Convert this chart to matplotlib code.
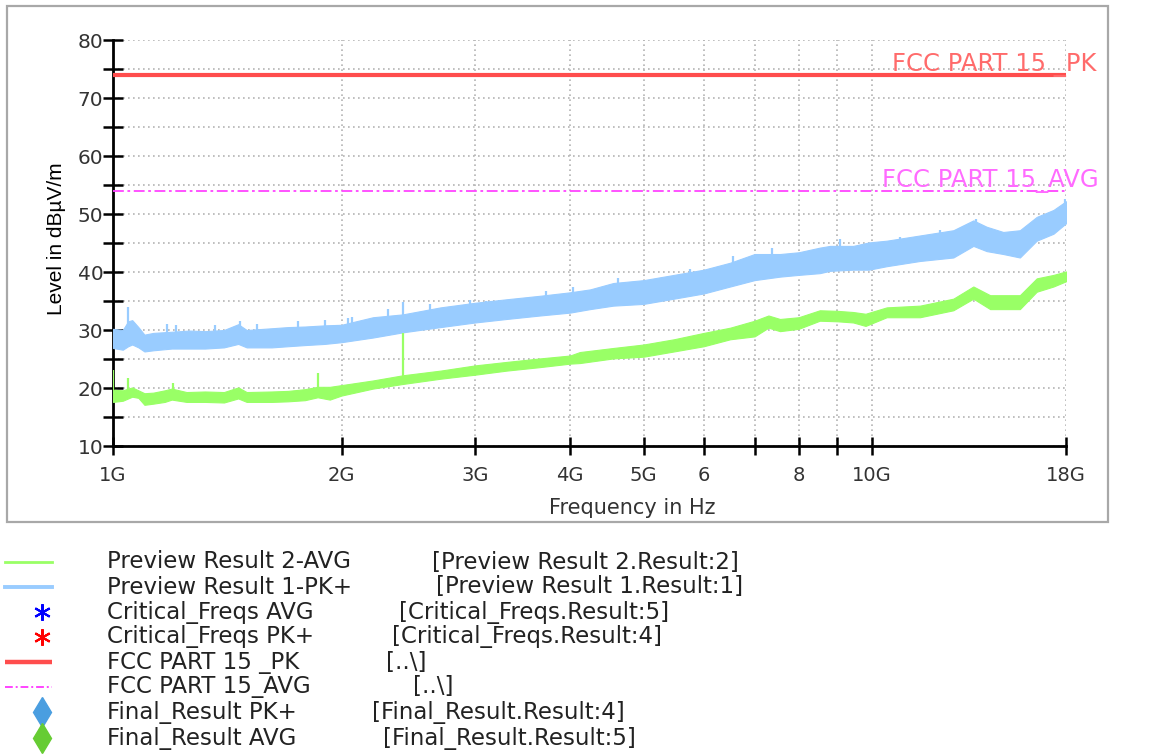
import matplotlib
matplotlib.use("Agg")
import matplotlib.pyplot as plt
from matplotlib.patches import Rectangle
import numpy as np

# ---------------- data ----------------
# Preview Result 1-PK+ : envelope of the noisy trace (GHz, dBuV/m)
pk_freq = [1.00, 1.03, 1.047, 1.06, 1.08, 1.10, 1.13, 1.195, 1.26, 1.322, 1.40, 1.462,
           1.50, 1.618, 1.70, 1.79, 1.90, 2.00, 2.20, 2.41, 2.70, 3.00, 3.30, 3.65,
           4.00, 4.25, 4.56, 5.00, 5.48, 6.00, 6.50, 7.00, 7.56, 8.00, 8.53, 8.80,
           9.44, 9.90, 10.45, 11.56, 12.79, 13.59, 14.15, 14.88, 15.65, 16.47, 17.33, 18.00]
pk_lo = [26.9, 26.6, 27.2, 27.5, 27.0, 26.3, 26.5, 26.8, 26.8, 26.8, 27.0, 27.6,
         27.0, 27.0, 27.2, 27.4, 27.6, 27.9, 28.7, 29.6, 30.5, 31.3, 31.9, 32.5,
         33.0, 33.6, 34.2, 34.5, 35.4, 36.3, 37.5, 38.6, 39.2, 39.5, 39.8, 40.2,
         40.4, 40.4, 41.0, 41.9, 42.5, 44.5, 43.6, 43.1, 42.5, 45.4, 46.6, 48.4]
pk_hi = [30.2, 30.0, 31.5, 31.7, 30.5, 29.2, 29.5, 29.7, 29.9, 29.8, 30.0, 31.0,
         30.0, 30.3, 30.5, 30.6, 30.8, 30.9, 32.2, 32.7, 33.9, 34.7, 35.3, 35.9,
         36.5, 37.0, 38.1, 38.6, 39.5, 40.4, 41.6, 43.1, 43.1, 43.4, 44.2, 44.5,
         44.5, 45.1, 45.4, 46.3, 47.2, 48.9, 47.8, 46.9, 47.2, 49.5, 50.7, 52.2]
# isolated peaks sticking out of the PK band
pk_spike_freq = [1.047, 1.177, 1.21, 1.362, 1.47, 1.546, 1.754, 1.902, 2.04, 2.063,
                 2.30, 2.41, 2.616, 2.95, 3.10, 3.72, 4.04, 4.63, 5.76, 6.56, 7.37,
                 8.54, 9.07, 10.88, 12.28, 13.69, 17.95]
pk_spike_hi = [33.9, 31.1, 30.9, 30.9, 31.6, 31.0, 31.6, 31.7, 32.1, 32.2,
               33.6, 34.9, 34.5, 35.1, 35.0, 36.7, 37.4, 38.9, 40.5, 42.8, 44.1,
               43.9, 45.7, 46.0, 47.3, 49.2, 52.6]
pk_spike_lo = [29.0, 28.0, 28.0, 28.0, 29.0, 28.0, 28.5, 28.8, 29.0, 29.0,
               30.0, 31.0, 32.0, 32.5, 32.5, 34.0, 34.5, 36.0, 37.5, 39.5, 41.0,
               41.5, 42.5, 43.5, 44.5, 46.5, 50.0]

# Preview Result 2-AVG : envelope of the noisy trace
avg_freq = [1.00, 1.03, 1.06, 1.08, 1.10, 1.13, 1.17, 1.195, 1.25, 1.322, 1.40, 1.462,
            1.50, 1.618, 1.70, 1.79, 1.86, 1.93, 2.00, 2.20, 2.41, 2.70, 3.00, 3.30,
            3.65, 4.00, 4.12, 4.56, 5.00, 5.48, 6.00, 6.50, 7.00, 7.30, 7.56, 8.00,
            8.53, 9.00, 9.44, 9.80, 10.45, 11.56, 12.79, 13.59, 14.30, 15.65, 16.47,
            17.33, 18.00]
avg_lo = [17.6, 17.8, 18.5, 18.3, 17.1, 17.3, 17.6, 18.0, 17.6, 17.6, 17.5, 18.2,
          17.6, 17.6, 17.7, 17.9, 18.4, 18.0, 18.7, 19.9, 20.7, 21.6, 22.3, 23.0,
          23.6, 24.2, 24.3, 25.1, 25.4, 26.3, 27.2, 28.4, 28.9, 30.4, 29.8, 30.2,
          31.6, 31.5, 31.3, 30.7, 32.2, 32.2, 33.4, 35.4, 33.6, 33.6, 36.6, 37.5, 38.4]
avg_hi = [19.7, 19.6, 20.1, 19.6, 19.1, 19.2, 19.6, 19.9, 19.3, 19.4, 19.3, 20.1,
          19.3, 19.4, 19.5, 19.8, 20.2, 20.2, 20.5, 21.3, 22.2, 23.0, 23.9, 24.5,
          25.1, 25.6, 26.2, 26.9, 27.5, 28.4, 29.5, 30.4, 31.6, 32.5, 31.9, 32.2,
          33.4, 33.3, 33.1, 32.8, 33.9, 34.2, 35.4, 37.5, 36.0, 36.0, 38.9, 39.5, 40.1]
avg_spike_freq = [1.00, 1.047, 1.20, 1.86, 2.41]
avg_spike_lo = [18.0, 18.5, 18.5, 19.0, 21.0]
avg_spike_hi = [23.1, 21.8, 20.9, 22.6, 29.4]

# limits
limit_freq = [1.0, 18.0]
fcc_pk = [74.0, 74.0]
fcc_avg = [54.0, 54.0]

x_ticks = [1, 2, 3, 4, 5, 6, 7, 8, 9, 10, 18]
x_tick_labels = ["1G", "2G", "3G", "4G", "5G", "6", "", "8", "", "10G", "18G"]
y_ticks = list(range(10, 81, 5))
y_tick_labels = [str(v) if v % 10 == 0 else "" for v in y_ticks]

legend_names = ["Preview Result 2-AVG", "Preview Result 1-PK+", "Critical_Freqs AVG",
                "Critical_Freqs PK+", "FCC PART 15 _PK", "FCC PART 15_AVG",
                "Final_Result PK+", "Final_Result AVG"]
legend_sources = ["[Preview Result 2.Result:2]", "[Preview Result 1.Result:1]",
                  "[Critical_Freqs.Result:5]", "[Critical_Freqs.Result:4]",
                  "[..\\]", "[..\\]", "[Final_Result.Result:4]", "[Final_Result.Result:5]"]

# ---------------- styling ----------------
GREEN = "#99ff66"
BLUE = "#99ccff"
RED = "#ff4d4d"
MAG = "#ff44ff"
TXT = "#333333"
GHZ = 1e9

W, H = 1176, 756
fig = plt.figure(figsize=(W / 100, H / 100), dpi=100)
fig.patch.set_facecolor("white")

# outer frame
fig.add_artist(Rectangle((7 / W, 1 - 522 / H), (1108 - 7) / W, (522 - 6) / H,
                         transform=fig.transFigure, fill=False,
                         edgecolor="#a8a8a8", lw=1.6, zorder=0))

ax = fig.add_axes([113 / W, 1 - 446 / H, (1066 - 113) / W, (446 - 40) / H])
ax.set_xscale("log")
ax.set_xlim(1.0 * GHZ, 18.0 * GHZ)
ax.set_ylim(10, 80)

f_pk = np.array(pk_freq) * GHZ
f_avg = np.array(avg_freq) * GHZ
ax.fill_between(f_pk, pk_lo, pk_hi, color=BLUE, lw=0.8, edgecolor=BLUE, zorder=3)
ax.vlines(np.array(pk_spike_freq) * GHZ, pk_spike_lo, pk_spike_hi, color=BLUE, lw=1.6, zorder=3)
ax.fill_between(f_avg, avg_lo, avg_hi, color=GREEN, lw=0.8, edgecolor=GREEN, zorder=4)
ax.vlines(np.array(avg_spike_freq) * GHZ, avg_spike_lo, avg_spike_hi, color=GREEN, lw=1.6, zorder=4)

ax.plot(np.array(limit_freq) * GHZ, fcc_pk, color=RED, lw=3.0, zorder=5, solid_capstyle="butt")
ax.plot(np.array(limit_freq) * GHZ, fcc_avg, color=MAG, lw=1.3, zorder=5,
        linestyle=(0, (6, 2, 1.5, 2)))

ax.set_xticks([v * GHZ for v in x_ticks])
ax.set_xticklabels(x_tick_labels)
ax.xaxis.set_minor_locator(matplotlib.ticker.NullLocator())
ax.set_yticks(y_ticks)
ax.set_yticklabels(y_tick_labels)

ax.grid(True, which="major", color="#b4b4b4", lw=1.2, linestyle=(0, (1, 2)), zorder=1)
ax.set_axisbelow(True)
for s in ["top", "right"]:
    ax.spines[s].set_visible(False)
for s in ["left", "bottom"]:
    ax.spines[s].set_linewidth(2)
    ax.spines[s].set_color("black")
ax.tick_params(axis="x", direction="inout", length=13, width=1.8, pad=8,
               labelsize=14, labelcolor=TXT)
ax.tick_params(axis="y", direction="inout", length=14, width=1.8, pad=0,
               labelsize=14.5, labelcolor=TXT)

fig.text(632 / W, 1 - 508 / H, "Frequency in Hz", ha="center", va="center",
         fontsize=15, color=TXT)
fig.text(57 / W, 1 - 239 / H, "Level in dBµV/m", ha="center", va="center",
         rotation=90, fontsize=15, color="black", family="Liberation Sans")

fig.text(892 / W, 1 - 71 / H, "FCC PART 15 _PK", ha="left", va="baseline",
         fontsize=17.5, color="#ff6b6b")
fig.text(882 / W, 1 - 187 / H, "FCC PART 15_AVG", ha="left", va="baseline",
         fontsize=17.5, color="#ff6bff")

# ---------------- legend ----------------
lax = fig.add_axes([0, 0, 1, 1], zorder=-1)
lax.set_xlim(0, W)
lax.set_ylim(H, 0)
lax.axis("off")
rows = [562, 587, 612, 637, 662, 687, 712, 738]
src_x = [432, 436, 399, 392, 386, 413, 372, 383]
lax.plot([5, 52], [rows[0]] * 2, color=GREEN, lw=2)
lax.plot([5, 52], [rows[1]] * 2, color=BLUE, lw=2.8)
lax.plot([42], [rows[2]], marker=(6, 2, 0), color="#0000ff", ms=12, mew=1.5)
lax.plot([42], [rows[3]], marker=(6, 2, 0), color="#ff0000", ms=12, mew=1.5)
lax.plot([5, 52], [rows[4]] * 2, color=RED, lw=3.2, solid_capstyle="butt")
lax.plot([5, 52], [rows[5]] * 2, color=MAG, lw=1.4, linestyle=(0, (4, 1.5, 1, 1.5)))
lax.plot([42], [rows[6]], marker="d", color="#4a9ee0", ms=15)
lax.plot([42], [rows[7]], marker="d", color="#66cc33", ms=15)
for y, name, src, sx in zip(rows, legend_names, legend_sources, src_x):
    lax.text(107, y, name, ha="left", va="center", fontsize=16.5, color="#222222")
    lax.text(sx, y, src, ha="left", va="center", fontsize=16.5, color="#222222")

fig.savefig("out.png", dpi=100)
